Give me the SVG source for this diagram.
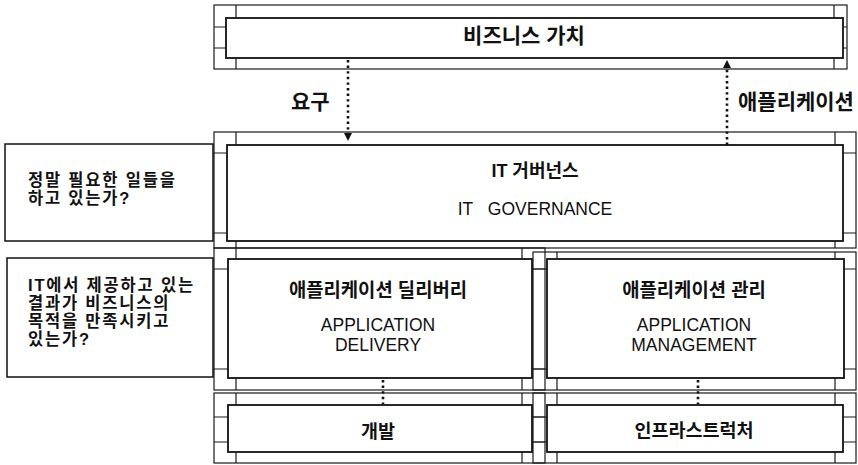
<svg xmlns="http://www.w3.org/2000/svg" width="858" height="465" viewBox="0 0 858 465">
<style>
.frame{fill:none;stroke:#1a1a1a;stroke-width:1.2}
.box{fill:#fff;stroke:#111;stroke-width:1.8}
.q{fill:#fff;stroke:#111;stroke-width:1.5}
.ko{font-family:"Liberation Sans","Noto Sans CJK KR",sans-serif;font-weight:bold;fill:#111}
.qt{font-size:16.5px;letter-spacing:1.8px}
.en{font-family:"Liberation Sans",Arial,sans-serif;fill:#111}
.dot{stroke:#111;stroke-width:2.6;stroke-dasharray:2.4 3.2;fill:none}
.mid{text-anchor:middle}
</style>
<rect width="858" height="465" fill="#fff"/>

<g id="business-value">
  <rect class="frame" x="214" y="5" width="633" height="64"/>
  <path class="frame" d="M236 5V69M834 5V69M214 27H226M214 48H226M843 27H847M843 48H847"/>
  <rect class="box" x="226" y="18" width="617" height="40"/>
  <text class="ko mid" x="524" y="43" font-size="21">비즈니스 가치</text>
</g>

<g id="it-governance">
  <rect class="frame" x="214" y="132" width="642" height="116"/>
  <path class="frame" d="M236 132V248M835 132V248M214 153H227M214 233H227M843 153H856M843 233H856"/>
  <rect class="box" x="227" y="145" width="616" height="96"/>
  <text class="ko mid" x="535" y="177" font-size="18">IT 거버넌스</text>
  <text class="en mid" x="535" y="215" font-size="17.5">IT&#160;&#160;&#160;GOVERNANCE</text>
</g>

<g id="app-delivery">
  <rect class="frame" x="214" y="248" width="331" height="142"/>
  <path class="frame" d="M236 248V390M522 248V390M214 269H228M214 369H228M532 269H545M532 369H545"/>
  <rect class="box" x="228" y="259" width="304" height="119"/>
  <text class="ko mid" x="378" y="297" font-size="18.8">애플리케이션 딜리버리</text>
  <text class="en mid" x="378" y="331" font-size="17.5">APPLICATION</text>
  <text class="en mid" x="378" y="351" font-size="17.5">DELIVERY</text>
</g>

<g id="app-management">
  <rect class="frame" x="533" y="252" width="323" height="138"/>
  <path class="frame" d="M557 252V390M835 252V390M533 269H547M533 369H547M844 269H856M844 369H856"/>
  <rect class="box" x="547" y="259" width="297" height="119"/>
  <text class="ko mid" x="694" y="297" font-size="18.8">애플리케이션 관리</text>
  <text class="en mid" x="694" y="331" font-size="17.5">APPLICATION</text>
  <text class="en mid" x="694" y="351" font-size="17.5">MANAGEMENT</text>
</g>

<g id="development">
  <rect class="frame" x="214" y="393" width="331" height="70"/>
  <path class="frame" d="M236 393V463M522 393V463M214 417H228M214 442H228M532 417H545M532 442H545"/>
  <rect class="box" x="228" y="405" width="304" height="47"/>
  <text class="ko mid" x="378" y="438" font-size="18.5">개발</text>
</g>

<g id="infrastructure">
  <rect class="frame" x="533" y="393" width="323" height="70"/>
  <path class="frame" d="M557 393V463M835 393V463M533 417H547M533 442H547M843 417H856M843 442H856"/>
  <rect class="box" x="547" y="405" width="296" height="47"/>
  <text class="ko mid" x="694" y="437" font-size="18.5">인프라스트럭처</text>
</g>

<g id="question-1">
  <rect class="q" x="5" y="144" width="208" height="97"/>
  <text class="ko qt" x="28" y="186">정말 필요한 일들을</text>
  <text class="ko qt" x="28" y="204">하고 있는가?</text>
</g>

<g id="question-2">
  <rect class="q" x="7" y="258" width="206" height="119"/>
  <text class="ko qt" x="28" y="291">IT에서 제공하고 있는</text>
  <text class="ko qt" x="28" y="309">결과가 비즈니스의</text>
  <text class="ko qt" x="28" y="327">목적을 만족시키고</text>
  <text class="ko qt" x="28" y="345">있는가?</text>
</g>

<g id="connectors">
  <line class="dot" x1="348" y1="60" x2="348" y2="133"/>
  <polygon points="344,133 352,133 348,141" fill="#111"/>
  <text class="ko" x="291" y="109" font-size="21">요구</text>
  <line class="dot" x1="727" y1="145" x2="727" y2="68"/>
  <polygon points="723,68 731,68 727,60" fill="#111"/>
  <text class="ko" x="738" y="109" font-size="21">애플리케이션</text>
  <line class="dot" x1="383" y1="380" x2="383" y2="404"/>
  <line class="dot" x1="698" y1="380" x2="698" y2="404"/>
</g>
</svg>
